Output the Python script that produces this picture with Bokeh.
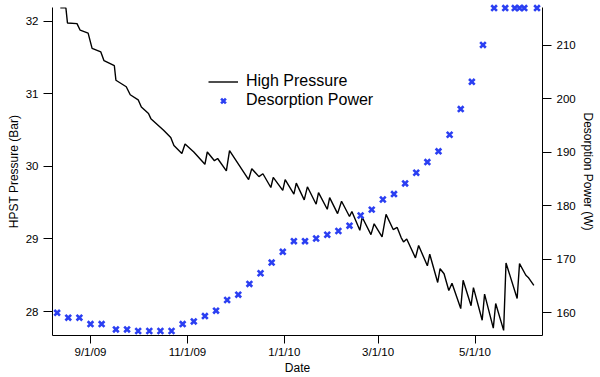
import pandas as pd
from bokeh.plotting import figure
from bokeh.models import Range1d, LinearAxis, FixedTicker, Legend, LegendItem
from bokeh.embed import file_html
from bokeh.resources import INLINE

# ---------------- data ----------------
line_dates = [
    "2009-08-13", "2009-08-16 12:00", "2009-08-17 12:00", "2009-08-23 12:00",
    "2009-08-25 12:00", "2009-08-30 12:00", "2009-09-02", "2009-09-07 12:00",
    "2009-09-09 12:00", "2009-09-16", "2009-09-17", "2009-09-23 12:00",
    "2009-09-26", "2009-10-01", "2009-10-03", "2009-10-07 12:00",
    "2009-10-09", "2009-10-17", "2009-10-21 12:00", "2009-10-23 12:00",
    "2009-10-28 12:00", "2009-10-30 12:00", "2009-11-05", "2009-11-12",
    "2009-11-13 12:00", "2009-11-18", "2009-11-20", "2009-11-25 12:00",
    "2009-11-27 12:00", "2009-12-09 12:00", "2009-12-11 12:00", "2009-12-16",
    "2009-12-18 12:00", "2009-12-23 12:00", "2009-12-25", "2009-12-31",
    "2010-01-01 12:00", "2010-01-07", "2010-01-08 12:00", "2010-01-13 12:00",
    "2010-01-15 12:00", "2010-01-21", "2010-01-22 12:00", "2010-01-28",
    "2010-01-29 12:00", "2010-02-03 12:00", "2010-02-06", "2010-02-11",
    "2010-02-12 12:00", "2010-02-17 12:00", "2010-02-19", "2010-02-24 12:00",
    "2010-02-26 12:00", "2010-03-03 12:00", "2010-03-06", "2010-03-10 12:00",
    "2010-03-13", "2010-03-15 12:00", "2010-03-17", "2010-03-19",
    "2010-03-24 12:00", "2010-03-26 12:00", "2010-04-01", "2010-04-02 12:00",
    "2010-04-07 12:00", "2010-04-09", "2010-04-11 12:00", "2010-04-14 12:00",
    "2010-04-16 12:00", "2010-04-22", "2010-04-23 12:00", "2010-04-28 12:00",
    "2010-04-30", "2010-05-05 12:00", "2010-05-07", "2010-05-12 12:00",
    "2010-05-14", "2010-05-19", "2010-05-20 12:00", "2010-05-27 12:00",
    "2010-05-29", "2010-06-02", "2010-06-03 12:00", "2010-06-07",
]
line_pressure = [
    32.19, 32.19, 31.98, 31.97, 31.88, 31.84, 31.63, 31.58,
    31.46, 31.39, 31.19, 31.10, 30.99, 30.92, 30.82, 30.73,
    30.66, 30.50, 30.40, 30.29, 30.18, 30.31, 30.20, 30.03,
    30.20, 30.08, 30.11, 29.94, 30.22, 29.82, 29.97, 29.86,
    29.90, 29.71, 29.85, 29.67, 29.82, 29.62, 29.77, 29.54,
    29.72, 29.48, 29.64, 29.41, 29.57, 29.35, 29.52, 29.31,
    29.38, 29.12, 29.30, 29.06, 29.21, 29.03, 29.34, 29.13,
    29.16, 29.02, 28.96, 29.00, 28.74, 28.91, 28.63, 28.79,
    28.40, 28.59, 28.52, 28.29, 28.39, 28.04, 28.43, 28.08,
    28.33, 27.88, 28.24, 27.77, 28.11, 27.74, 28.67, 28.18,
    28.66, 28.50, 28.47, 28.36,
]

power_dates = [
    "2009-08-11", "2009-08-18", "2009-08-25", "2009-09-01", "2009-09-08",
    "2009-09-17", "2009-09-24", "2009-10-01", "2009-10-08", "2009-10-15",
    "2009-10-22", "2009-10-29", "2009-11-05", "2009-11-12", "2009-11-19",
    "2009-11-26", "2009-12-03", "2009-12-10", "2009-12-17", "2009-12-24",
    "2009-12-31", "2010-01-07", "2010-01-14", "2010-01-21", "2010-01-28",
    "2010-02-04", "2010-02-11", "2010-02-18", "2010-02-25", "2010-03-04",
    "2010-03-11", "2010-03-18", "2010-03-25", "2010-04-01", "2010-04-08",
    "2010-04-15", "2010-04-22", "2010-04-29", "2010-05-06", "2010-05-13",
    "2010-05-20", "2010-05-26", "2010-05-29", "2010-06-01", "2010-06-09",
]
power_values = [
    160.0, 159.1, 159.1, 157.9, 157.9, 156.9, 156.9, 156.6, 156.6, 156.6,
    156.6, 157.9, 158.4, 159.4, 160.4, 162.4, 163.4, 165.4, 167.4, 169.4,
    171.4, 173.4, 173.4, 173.9, 174.6, 175.3, 176.3, 178.2, 179.3, 181.2,
    182.2, 184.2, 186.2, 188.2, 190.2, 193.3, 198.1, 203.2, 210.1, 217.0,
    217.0, 217.0, 217.0, 217.0, 217.0,
]

x_tick_dates = ["2009-09-01", "2009-11-01", "2010-01-01", "2010-03-01", "2010-05-01"]
x_tick_labels = ["9/1/09", "11/1/09", "1/1/10", "3/1/10", "5/1/10"]
pressure_ticks = [28, 29, 30, 31, 32]
power_ticks = [160, 170, 180, 190, 200, 210]

x_start, x_end = "2009-08-08 02:00", "2010-06-12 11:00"
pressure_range = (27.669, 32.193)
power_range = (155.76, 217.10)

FONT = "Liberation Sans"
BLUE = "#2b3ff2"

# ---------------- figure ----------------
p = figure(
    width=600, height=377, x_axis_type="datetime",
    output_backend="svg", toolbar_location=None,
    x_range=Range1d(pd.Timestamp(x_start), pd.Timestamp(x_end)),
    y_range=Range1d(*pressure_range),
    min_border_left=52, min_border_right=58, min_border_top=7, min_border_bottom=42,
)
p.outline_line_color = None
p.xgrid.visible = False
p.ygrid.visible = False
p.background_fill_color = "white"

p.extra_y_ranges = {"power": Range1d(*power_range)}

line_x = pd.to_datetime(line_dates, format="mixed")
power_x = pd.to_datetime(power_dates, format="mixed")

line_r = p.line(line_x, line_pressure, line_color="black", line_width=1.4)
sc_r = p.scatter(power_x, power_values, marker="x", size=8,
                 line_width=2.6, line_color=BLUE, y_range_name="power", level="overlay")

# axes
xax = p.xaxis[0]
tick_ms = [int(pd.Timestamp(d).value // 10**6) for d in x_tick_dates]
xax.ticker = FixedTicker(ticks=tick_ms)
xax.major_label_overrides = {t: lab for t, lab in zip(tick_ms, x_tick_labels)}
xax.axis_label = "Date"

yax = p.yaxis[0]
yax.ticker = FixedTicker(ticks=pressure_ticks)
yax.axis_label = "HPST Pressure (Bar)"

rax = LinearAxis(y_range_name="power", ticker=FixedTicker(ticks=power_ticks),
                 axis_label="Desorption Power (W)")
p.add_layout(rax, "right")

for ax in (xax, yax, rax):
    ax.axis_line_color = "black"
    ax.axis_line_width = 1
    ax.major_tick_line_color = "black"
    ax.major_tick_in = 0
    ax.minor_tick_line_color = None
    ax.major_label_text_font = FONT
    ax.major_label_text_font_size = "11.5px"
    ax.major_label_text_color = "black"
    ax.axis_label_text_font = FONT
    ax.axis_label_text_font_size = "12px"
    ax.axis_label_text_font_style = "normal"
    ax.axis_label_text_color = "black"

xax.major_tick_out = 8
xax.major_label_standoff = 2
xax.axis_label_standoff = 0
yax.major_tick_out = 9
yax.major_label_standoff = 5
yax.axis_label_standoff = 2
rax.major_tick_out = 9
rax.major_label_standoff = 5
rax.axis_label_standoff = 2

legend = Legend(
    items=[LegendItem(label="High Pressure", renderers=[line_r]),
           LegendItem(label="Desorption Power", renderers=[sc_r])],
    location=(156, 226), padding=0, margin=0, spacing=1,
    glyph_width=30, glyph_height=17, label_height=17, label_standoff=8,
    label_text_font=FONT, label_text_font_size="16px", label_text_color="black",
    border_line_color=None, background_fill_alpha=0,
)
p.add_layout(legend)

open("out.html", "w").write(file_html(p, INLINE))
